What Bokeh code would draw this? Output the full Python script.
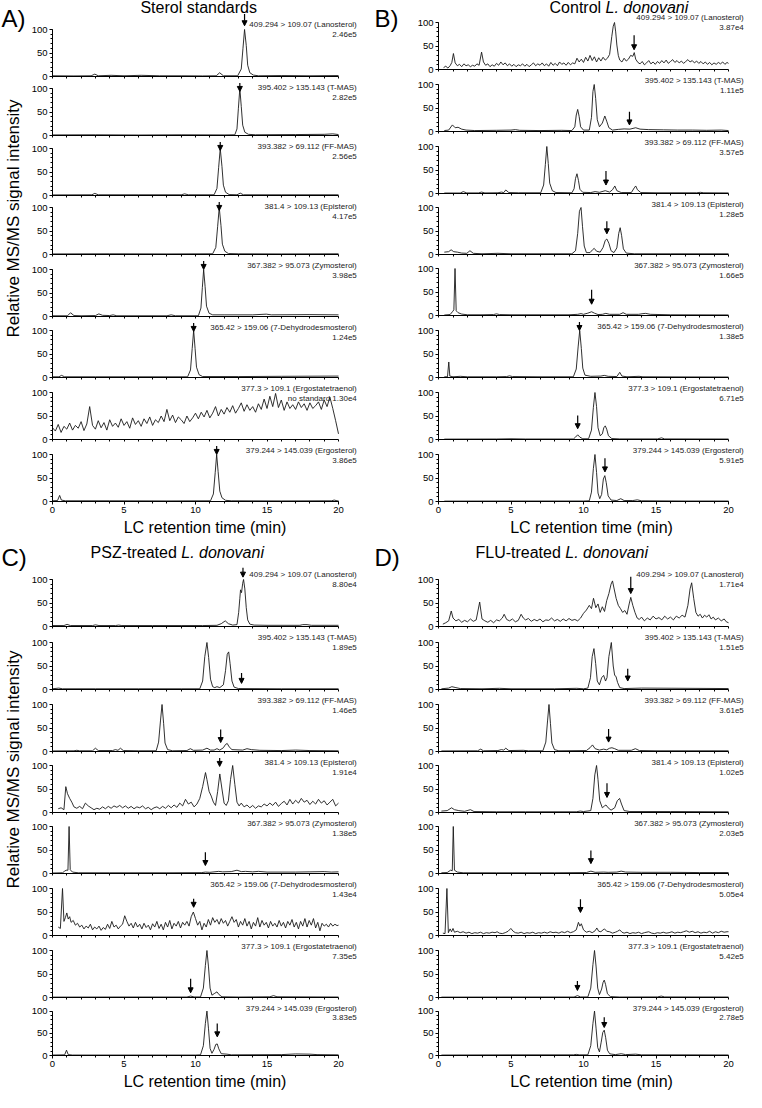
import math
from bokeh.plotting import figure
from bokeh.models import Range1d, FixedTicker, Label, Arrow, NormalHead
from bokeh.layouts import row, column
from bokeh.embed import file_html
from bokeh.resources import INLINE

FONT = "Liberation Sans"

# ---------------- data ----------------
transitions = ["409.294 > 109.07 (Lanosterol)", "395.402 > 135.143 (T-MAS)",
               "393.382 > 69.112 (FF-MAS)", "381.4 > 109.13 (Episterol)",
               "367.382 > 95.073 (Zymosterol)", "365.42 > 159.06 (7-Dehydrodesmosterol)",
               "377.3 > 109.1 (Ergostatetraenol)", "379.244 > 145.039 (Ergosterol)"]
x_ticks = [0, 5, 10, 15, 20]
x_minor = list(range(0, 21))
y_ticks = [0, 50, 100]
y_minor = [0, 10, 20, 30, 40, 50, 60, 70, 80, 90, 100]

scales_A = ["2.46e5", "2.82e5", "2.56e5", "4.17e5", "3.98e5", "1.24e5", "no standard 1.30e4", "3.86e5"]
scales_B = ["3.87e4", "1.11e5", "3.57e5", "1.28e5", "1.66e5", "1.38e5", "6.71e5", "5.91e5"]
scales_C = ["8.80e4", "1.89e5", "1.46e5", "1.91e4", "1.38e5", "1.43e4", "7.35e5", "3.83e5"]
scales_D = ["1.71e4", "1.51e5", "3.61e5", "1.02e5", "2.03e5", "5.05e4", "5.42e5", "2.78e5"]

# arrows: retention time, tip level, tail level (None = no arrow)
arrow_x_A = [13.43, 13.1, 11.73, 11.66, 10.57, 9.87, None, 11.48]
arrow_tip_A = [108, 102, 102, 101, 103, 105, None, 102]
arrow_tail_A = [133, 126, 122, 125, 125, 122, None, 123]
arrow_x_B = [13.49, 13.17, 11.55, 11.61, 10.56, 9.72, 9.6, 11.48]
arrow_tip_B = [42, 14, 18, 44, 24, 100, 23, 63]
arrow_tail_B = [73, 42, 48, 71, 55, 122, 51, 92]
arrow_x_C = [13.32, 13.22, 11.76, 11.69, 10.69, 9.87, 9.66, 11.52]
arrow_tip_C = [105, 13, 19, 104, 17, 60, 10, 42]
arrow_tail_C = [125, 35, 47, 123, 45, 78, 40, 72]
arrow_x_D = [13.26, 13.05, 11.73, 11.62, 10.51, 9.79, 9.58, 11.43]
arrow_tip_D = [70, 18, 20, 32, 21, 49, 15, 63]
arrow_tail_D = [106, 44, 48, 62, 49, 77, 35, 86]

# ---- Panel A: sterol standards ----
A_lanosterol = [(0.0,1.5),(1.5,1.2),(2.7,1.5),(2.96,5),(3.2,1.5),(4.1,2.5),(5.0,1.5),(6.2,2.5),(7.5,1.5),(9.0,1.5),
                (10.5,1.2),(11.45,1.5),(11.69,8),(11.95,1.5),(12.95,1.5),(13.2,16),(13.32,60),(13.43,100),(13.55,66),
                (13.65,24),(13.8,8),(14.05,3),(14.4,1.5),(16,2),(18,1.5),(20,2)]
A_tmas = [(0.0,1.2),(3,1.5),(6,1),(9,1.5),(12,1.2),(12.75,1.5),(12.9,14),(13.0,58),(13.1,100),(13.2,62),(13.3,22),
          (13.45,7),(13.7,2.5),(14.2,1.5),(17,2),(19,2.5),(19.6,3.5),(20,2)]
A_ffmas = [(0.0,1.2),(2.75,1.5),(2.96,4.5),(3.2,1.5),(6,1.5),(9.0,1.5),(9.24,3.5),(9.5,1.5),(11.3,1.5),(11.5,15),
           (11.62,60),(11.73,100),(11.85,62),(11.95,22),(12.1,7),(12.35,2),(12.9,1.5),(13.13,5),(13.35,1.5),(16,1.5),(20,1.5)]
A_episterol = [(0.0,1.2),(4,1.5),(8,1.2),(11.2,1.5),(11.42,15),(11.55,60),(11.66,100),(11.78,62),(11.88,22),(12.05,7),
               (12.3,2),(13,1.5),(16,1.2),(20,1.5)]
A_zymosterol = [(0.0,1.5),(1.05,1.5),(1.26,8),(1.5,2),(2.0,1.5),(3.0,2),(3.24,5.5),(3.5,2.5),(4.0,2),(4.24,3.5),(4.5,1.5),
                (8.0,1.5),(8.3,3.5),(8.6,1.5),(10.2,1.5),(10.38,18),(10.48,62),(10.57,100),(10.67,64),(10.77,22),
                (10.95,7),(11.2,3.5),(12,3.5),(14,3.5),(14.95,5),(15.3,3.5),(18,4),(20,3.5)]
A_dhd = [(0.0,1.5),(0.45,1.5),(0.63,4.5),(0.85,1.5),(3,1.5),(6,1.5),(9.45,1.5),(9.65,16),(9.77,62),(9.87,100),(9.97,62),
         (10.07,22),(10.25,6),(10.5,2),(13,2),(16,2.5),(20,3)]
A_ergostatetraenol = [(0.0,25),(0.2,18),(0.4,32),(0.6,15),(0.8,28),(1.0,22),(1.2,35),(1.4,20),(1.6,30),(1.8,24),
    (2.0,38),(2.2,19),(2.4,33),(2.6,70),(2.8,30),(3.0,22),(3.2,40),(3.4,25),(3.6,36),(3.8,20),
    (4.0,42),(4.2,28),(4.4,35),(4.6,26),(4.8,44),(5.0,30),(5.2,38),(5.4,24),(5.6,46),(5.8,32),
    (6.0,40),(6.2,28),(6.4,44),(6.6,34),(6.8,48),(7.0,30),(7.2,42),(7.4,36),(7.6,50),(7.8,38),
    (8.0,64),(8.2,40),(8.4,52),(8.6,36),(8.8,48),(9.0,42),(9.2,34),(9.4,50),(9.6,38),(9.8,46),
    (10.0,56),(10.2,44),(10.4,58),(10.6,48),(10.8,62),(11.0,46),(11.2,56),(11.4,70),(11.6,50),(11.8,64),
    (12.0,54),(12.2,68),(12.4,58),(12.6,72),(12.8,56),(13.0,66),(13.2,78),(13.4,60),(13.6,74),(13.8,62),
    (14.0,70),(14.2,58),(14.4,76),(14.6,64),(14.8,86),(15.0,66),(15.2,92),(15.4,70),(15.6,98),(15.8,68),
    (16.0,84),(16.2,62),(16.4,80),(16.6,66),(16.8,74),(17.0,64),(17.2,80),(17.4,68),(17.6,76),(17.8,62),
    (18.0,78),(18.2,66),(18.4,72),(18.6,80),(18.8,64),(19.0,84),(19.2,70),(19.4,90),(19.6,66),(19.8,40),(20.0,12)]
A_ergosterol = [(0.0,1.5),(0.35,2),(0.5,13),(0.62,3),(0.9,1.5),(4,1.5),(8,1.2),(11.05,1.5),(11.25,16),(11.38,62),
                (11.48,100),(11.58,64),(11.7,22),(11.85,8),(12.1,2.5),(12.5,1.5),(16,1.2),(19.5,1.5),(19.7,3),(19.9,1.5),(20,1.5)]

# ---- Panel B: control ----
B_lanosterol = [(0.35,4),(0.5,7),(0.65,3),(0.8,8),(0.92,15),(1.03,34),(1.15,14),(1.3,8),(1.45,11),(1.6,6),(1.75,12),
    (1.9,8),(2.05,10),(2.2,6),(2.35,9),(2.5,7),(2.65,12),(2.8,9),(2.97,37),(3.1,16),(3.25,9),(3.4,12),(3.55,6),
    (3.7,10),(3.85,7),(4.0,13),(4.15,9),(4.3,16),(4.45,10),(4.6,14),(4.75,8),(4.9,12),(5.05,7),(5.2,11),(5.35,6),
    (5.5,10),(5.65,8),(5.8,12),(5.95,7),(6.1,11),(6.25,6),(6.4,10),(6.55,14),(6.7,8),(6.85,12),(7.0,9),(7.15,14),
    (7.3,8),(7.45,12),(7.6,7),(7.75,15),(7.9,9),(8.05,13),(8.2,8),(8.35,16),(8.5,11),(8.65,14),(8.8,9),(8.95,15),
    (9.1,10),(9.25,14),(9.4,12),(9.55,24),(9.7,16),(9.85,22),(10.0,15),(10.15,26),(10.3,18),(10.45,30),(10.6,19),
    (10.75,27),(10.9,16),(11.05,25),(11.2,18),(11.35,26),(11.5,20),(11.65,24),(11.8,32),(11.95,70),(12.05,92),
    (12.14,100),(12.22,80),(12.3,52),(12.4,30),(12.5,20),(12.65,16),(12.8,24),(12.95,18),(13.1,22),(13.25,30),
    (13.4,28),(13.5,36),(13.6,22),(13.75,15),(13.9,12),(14.05,17),(14.2,10),(14.35,14),(14.5,19),(14.65,12),
    (14.8,16),(14.95,11),(15.1,17),(15.25,13),(15.4,19),(15.55,14),(15.7,20),(15.85,13),(16.0,17),(16.15,21),
    (16.3,15),(16.45,19),(16.6,14),(16.75,18),(16.9,13),(17.05,17),(17.2,21),(17.35,16),(17.5,19),(17.65,14),
    (17.8,18),(17.95,13),(18.1,17),(18.25,12),(18.4,16),(18.55,11),(18.7,15),(18.85,10),(19.0,14),(19.15,11),
    (19.3,15),(19.45,12),(19.6,16),(19.75,11),(19.9,15),(20.0,13)]
B_tmas = [(0.4,2),(0.7,3),(0.96,14),(1.15,8),(1.35,9),(1.6,5),(1.9,3),(2.5,2),(4,2.5),(5.0,3),(5.3,4),(5.6,2.5),(7,2),
          (8.5,2.5),(9.2,2),(9.4,10),(9.5,35),(9.6,47),(9.7,32),(9.8,10),(10.0,3),(10.4,3),(10.55,30),(10.65,85),
          (10.74,100),(10.84,70),(10.95,25),(11.1,10),(11.3,18),(11.47,33),(11.6,22),(11.75,8),(12.0,3),(12.4,4.5),
          (12.8,5.5),(13.2,5),(13.6,8),(13.9,5),(14.5,4),(15.5,3.5),(16.5,3),(17.5,3),(18.5,2.5),(19.5,3),(20,2)]
B_ffmas = [(0.4,1),(1.5,1),(1.71,4),(1.95,1.2),(2.75,1.2),(2.97,3),(3.2,1.2),(4.1,1.5),(4.34,3),(4.5,2),(4.64,7.5),
           (4.85,2),(5.5,1.5),(7.05,1.5),(7.25,18),(7.37,62),(7.47,100),(7.57,64),(7.67,22),(7.85,6),(8.1,2),(9.2,1.5),
           (9.35,10),(9.45,32),(9.55,42),(9.65,28),(9.75,9),(9.95,2.5),(10.5,2),(10.8,4),(11.1,2.5),(11.5,6),(11.8,3),
           (12.0,8),(12.16,16),(12.3,6),(12.6,2),(13.3,2),(13.5,12),(13.6,16),(13.72,8),(13.95,2),(15,1.5),(17.8,1.5),
           (18.06,2.5),(18.3,1.5),(20,1.2)]
B_episterol = [(0.4,5),(0.7,6),(0.87,10),(1.05,6),(1.3,5),(1.6,3),(1.95,2.5),(2.17,8),(2.4,2.5),(3.0,1.5),(4.1,2.5),
               (5,1.5),(7,1.5),(9.2,1.5),(9.45,8),(9.6,45),(9.72,92),(9.83,100),(9.93,60),(10.05,18),(10.2,4),(10.45,4),
               (10.62,10),(10.74,13),(10.9,7),(11.15,5),(11.35,15),(11.5,30),(11.61,33),(11.75,24),(11.9,8),(12.1,4),
               (12.3,14),(12.43,45),(12.53,57),(12.63,40),(12.75,12),(12.95,3),(13.5,1.5),(16,1.5),(20,1.5)]
B_zymosterol = [(0.4,1),(0.8,2),(0.96,8),(1.06,12),(1.14,100),(1.22,10),(1.35,6),(1.6,3),(2.0,1.5),(3.0,1.5),(3.8,2),
                (4.0,3.5),(4.2,2),(5,1.5),(7,1.5),(9.0,1.5),(9.6,2.5),(9.83,4),(10.0,2.5),(10.3,5),(10.56,8),(10.75,5),
                (11.0,2),(11.3,2.5),(11.54,4.5),(11.8,2.5),(12.5,2.5),(12.73,6),(12.95,2.5),(13.8,2.5),(14.1,4),
                (14.29,4.5),(14.6,2.5),(16,1.5),(20,1.2)]
B_dhd = [(0.4,1.5),(0.62,1.5),(0.71,33),(0.78,3),(1.0,1.5),(1.5,2.5),(2,1.5),(4.0,1.5),(4.7,2),(4.9,3.5),(5.1,2),(7,1.5),
         (9.3,1.5),(9.5,18),(9.63,65),(9.74,100),(9.85,62),(9.95,20),(10.1,5),(10.5,2.5),(11.2,3),(11.43,4.5),(11.7,2.5),
         (12.3,2),(12.5,11),(12.65,3),(13.0,1.5),(13.83,2.5),(14.1,1.5),(17,1.2),(20,1)]
B_ergostatetraenol = [(0.4,0.8),(4,1),(5,1.5),(6,1),(9.3,1),(9.45,5),(9.6,10),(9.75,5),(9.95,1.5),(10.35,1.5),(10.55,20),
                      (10.68,68),(10.79,100),(10.9,70),(11.0,25),(11.15,8),(11.3,12),(11.4,25),(11.5,29),(11.6,22),
                      (11.72,8),(11.95,2),(12.5,1.2),(15.1,1.2),(15.38,3.5),(15.6,1.2),(20,1)]
B_ergosterol = [(0.4,0.8),(5,1),(10,1),(10.4,1.5),(10.55,20),(10.68,70),(10.79,100),(10.9,62),(11.0,18),(11.12,6),
                (11.25,15),(11.37,48),(11.47,55),(11.57,40),(11.7,12),(11.9,3),(12.3,2),(12.57,6),(12.8,2),(13.4,2),
                (13.71,3.5),(14,1.5),(17,1),(20,1)]

# ---- Panel C: PSZ-treated ----
C_lanosterol = [(0.0,2),(0.8,2),(1.02,4.5),(1.25,2),(2.8,2),(3.0,3.5),(3.25,2),(4.4,2),(4.63,3),(4.85,2),(7,2),(9,2),
                (10.5,2),(11.5,2.5),(11.8,6),(12.08,12),(12.3,6),(12.6,3),(12.9,4),(13.02,30),(13.1,60),(13.15,78),
                (13.22,72),(13.3,92),(13.36,100),(13.45,80),(13.55,40),(13.65,14),(13.8,5),(14.1,3),(15,2.5),(17.3,2.5),
                (17.5,4),(17.8,4),(18.1,2.5),(20,2.5)]
C_tmas = [(0.0,1.5),(0.44,3),(0.7,1.5),(3,1.5),(6,1.5),(9,1.5),(10.3,1.5),(10.5,18),(10.65,70),(10.8,100),(10.92,68),
          (11.05,22),(11.2,6),(11.35,4),(11.5,6),(11.7,4),(11.95,10),(12.1,40),(12.22,75),(12.32,80),(12.42,55),
          (12.55,18),(12.7,5),(13.0,2),(16,1.5),(20,1.5)]
C_ffmas = [(0.0,1.2),(1.5,1.5),(1.7,2.5),(1.9,1.5),(2.8,1.5),(3.0,7),(3.2,2),(4.2,2),(4.4,4),(4.58,2.5),(4.75,7),(4.95,2),
           (6,1.5),(7.25,1.5),(7.42,20),(7.55,65),(7.66,100),(7.77,60),(7.87,18),(8.05,4),(8.4,1.5),(9.4,2),(9.64,6),
           (9.85,2.5),(10.5,3),(10.8,7),(11.05,3),(11.3,3),(11.5,6),(11.7,3),(11.95,8),(12.1,15),(12.22,17),(12.35,10),
           (12.55,4),(13.3,3),(13.6,6),(13.9,4),(14.5,2.5),(16,2),(17,3),(18,2),(20,1.5)]
C_episterol = [(0.4,8),(0.6,10),(0.8,6),(0.93,55),(1.05,40),(1.2,30),(1.35,22),(1.5,12),(1.7,9),(1.9,13),(2.1,8),(2.3,20),
    (2.5,14),(2.7,10),(2.9,6),(3.1,9),(3.3,7),(3.5,12),(3.7,8),(3.9,13),(4.1,9),(4.3,14),(4.5,11),(4.7,15),(4.9,10),
    (5.1,14),(5.3,9),(5.5,13),(5.7,8),(5.9,12),(6.1,10),(6.3,14),(6.5,8),(6.7,11),(6.9,6),(7.1,10),(7.3,12),(7.5,8),
    (7.7,13),(7.9,9),(8.1,15),(8.3,10),(8.5,16),(8.7,11),(8.9,20),(9.1,14),(9.3,28),(9.5,18),(9.7,22),(9.9,12),
    (10.1,18),(10.3,30),(10.5,55),(10.7,85),(10.8,70),(10.95,45),(11.1,35),(11.25,22),(11.4,15),(11.55,45),(11.7,82),
    (11.85,50),(12.0,20),(12.15,15),(12.3,25),(12.45,70),(12.6,100),(12.75,60),(12.9,22),(13.05,14),(13.2,20),
    (13.4,12),(13.6,16),(13.8,10),(14.0,15),(14.2,9),(14.4,14),(14.6,12),(14.8,18),(15.0,14),(15.2,20),(15.4,15),
    (15.6,22),(15.8,13),(16.0,19),(16.2,24),(16.4,16),(16.6,28),(16.8,18),(17.0,26),(17.2,20),(17.4,30),(17.6,22),
    (17.8,26),(18.0,17),(18.2,24),(18.4,18),(18.6,28),(18.8,20),(19.0,25),(19.2,16),(19.4,22),(19.6,28),(19.8,14),(20.0,20)]
C_zymosterol = [(0.0,1),(0.7,1.5),(0.85,5),(0.95,7),(1.08,7),(1.16,100),(1.24,8),(1.4,3),(1.8,1.5),(4,1.5),(8,1.5),
                (10.4,1.8),(10.69,3),(11.0,2.5),(11.62,4.5),(11.9,3.5),(12.5,4),(12.9,7),(13.2,4),(13.5,4.5),(14.0,3.5),
                (14.4,4.5),(15,3),(17,3),(18,3.5),(19,4),(19.5,3),(20,3.5)]
C_dhd = [(0.4,18),(0.55,15),(0.7,100),(0.8,30),(0.9,38),(1.0,48),(1.1,35),(1.2,40),(1.3,28),(1.45,32),(1.6,22),(1.75,26),
    (1.9,18),(2.05,22),(2.2,14),(2.35,20),(2.5,16),(2.65,24),(2.8,12),(2.95,18),(3.1,14),(3.25,20),(3.4,11),(3.55,17),
    (3.7,13),(3.85,24),(4.0,15),(4.15,30),(4.3,18),(4.45,22),(4.6,14),(4.75,20),(4.9,24),(5.05,42),(5.2,30),(5.35,20),
    (5.5,26),(5.65,16),(5.8,28),(5.95,18),(6.1,24),(6.25,14),(6.4,26),(6.55,17),(6.7,22),(6.85,12),(7.0,25),(7.15,18),
    (7.3,30),(7.45,15),(7.6,24),(7.75,12),(7.9,28),(8.05,18),(8.2,32),(8.35,14),(8.5,26),(8.65,20),(8.8,30),(8.95,16),
    (9.1,28),(9.25,22),(9.4,30),(9.55,20),(9.7,40),(9.85,50),(10.0,36),(10.15,22),(10.3,30),(10.45,12),(10.6,26),
    (10.75,18),(10.9,34),(11.05,22),(11.2,38),(11.35,28),(11.5,34),(11.65,24),(11.8,36),(11.95,26),(12.1,32),
    (12.25,20),(12.4,30),(12.55,40),(12.7,28),(12.85,34),(13.0,18),(13.15,30),(13.3,22),(13.45,36),(13.6,20),
    (13.75,30),(13.9,14),(14.05,28),(14.2,20),(14.35,38),(14.5,18),(14.65,32),(14.8,22),(14.95,28),(15.1,16),
    (15.25,30),(15.4,20),(15.55,26),(15.7,18),(15.85,32),(16.0,20),(16.15,28),(16.3,16),(16.45,30),(16.6,22),
    (16.75,34),(16.9,18),(17.05,28),(17.2,14),(17.35,30),(17.5,20),(17.65,36),(17.8,18),(17.95,32),(18.1,22),
    (18.25,36),(18.4,16),(18.55,28),(18.7,10),(18.85,26),(19.0,20),(19.15,24),(19.3,18),(19.45,26),(19.6,20),
    (19.75,24),(19.9,21),(20.0,22)]
C_ergostatetraenol = [(0.0,0.8),(5,1),(9.4,1),(9.66,3),(9.9,1.2),(10.35,1.2),(10.55,20),(10.69,68),(10.8,100),(10.91,65),
                      (11.02,20),(11.15,5),(11.35,9),(11.5,12),(11.65,6),(11.85,1.5),(13,1),(15.2,1.5),(15.46,4),(15.7,1.5),(20,1)]
C_ergosterol = [(0.0,1),(0.85,1.5),(0.98,12),(1.1,2),(1.4,1),(5,1),(10,1),(10.35,1.5),(10.55,22),(10.69,72),(10.8,100),
                (10.91,60),(11.02,16),(11.15,5),(11.3,14),(11.42,25),(11.52,26),(11.63,15),(11.8,4),(12.2,3),(12.5,1.5),
                (16,2),(17,3.5),(18,3),(18.5,2),(20,1.5)]

# ---- Panel D: FLU-treated ----
D_lanosterol = [(0.3,5),(0.5,8),(0.7,12),(0.88,33),(1.0,18),(1.2,12),(1.4,15),(1.6,9),(1.8,13),(2.0,10),(2.2,16),(2.4,11),
    (2.6,14),(2.84,52),(3.0,16),(3.2,12),(3.4,9),(3.6,13),(3.8,8),(4.0,14),(4.2,12),(4.4,18),(4.53,26),(4.7,15),(4.9,12),
    (5.1,16),(5.3,10),(5.5,13),(5.7,26),(5.85,18),(6.0,14),(6.2,17),(6.4,11),(6.6,15),(6.8,12),(7.0,16),(7.2,10),
    (7.4,14),(7.6,13),(7.8,18),(8.0,12),(8.2,15),(8.4,11),(8.6,16),(8.8,12),(9.0,17),(9.2,13),(9.4,15),(9.6,12),
    (9.8,18),(10.0,28),(10.2,35),(10.4,45),(10.55,38),(10.69,60),(10.85,40),(11.0,48),(11.15,30),(11.3,42),(11.45,32),
    (11.6,55),(11.75,70),(11.9,90),(12.0,97),(12.1,82),(12.25,60),(12.4,45),(12.55,38),(12.7,30),(12.85,34),(13.0,26),
    (13.15,48),(13.26,62),(13.4,45),(13.55,30),(13.7,18),(13.85,15),(14.0,20),(14.2,12),(14.4,18),(14.6,14),(14.8,22),
    (15.0,16),(15.2,19),(15.4,14),(15.6,22),(15.8,16),(16.0,20),(16.2,14),(16.4,22),(16.6,18),(16.8,24),(17.0,20),
    (17.2,45),(17.35,80),(17.46,93),(17.6,60),(17.75,30),(17.9,22),(18.05,26),(18.2,18),(18.35,24),(18.5,20),
    (18.65,25),(18.8,16),(18.95,20),(19.1,14),(19.3,18),(19.5,12),(19.7,16),(19.85,10),(20.0,8)]
D_tmas = [(0.2,1.5),(0.7,3),(0.92,6),(1.2,4),(1.5,2),(3,1.5),(4.2,2.5),(5,1.5),(8,1.5),(9.54,2.5),(10.0,1.5),(10.3,3),
          (10.48,25),(10.6,70),(10.72,87),(10.84,55),(10.95,18),(11.1,10),(11.25,25),(11.39,30),(11.52,18),(11.62,25),
          (11.75,70),(11.92,100),(12.05,50),(12.15,30),(12.24,28),(12.35,15),(12.5,4),(12.8,2),(14,3),(17,2.5),(20,2)]
D_ffmas = [(0.2,1.2),(2.7,1.5),(2.91,5),(3.1,1.5),(4.1,2),(4.34,4),(4.5,3),(4.64,7),(4.85,2),(5.84,2.5),(6.2,1.5),(7.2,1.5),
           (7.4,20),(7.52,65),(7.62,100),(7.72,60),(7.82,18),(8.0,4),(8.3,1.5),(10.2,2),(10.45,8),(10.62,14),(10.8,6),
           (11.1,3),(11.39,5),(11.6,3.5),(11.8,7),(11.96,8),(12.15,6),(12.4,2.5),(13.3,2.5),(13.58,6),(13.85,2),(15,1.5),(20,1.5)]
D_episterol = [(0.2,3),(0.6,4),(0.9,10),(1.1,6),(1.4,4),(1.8,2.5),(2.2,6),(2.45,2),(4,1.5),(6,1.5),(9.5,1.5),(9.77,3),
               (10.0,2),(10.5,4),(10.65,30),(10.78,80),(10.9,100),(11.0,70),(11.12,25),(11.3,10),(11.45,14),(11.55,16),
               (11.7,10),(11.9,5),(12.15,10),(12.33,25),(12.49,30),(12.62,18),(12.8,4),(13.2,2),(16,2),(20,1.5)]
D_zymosterol = [(0.2,1.5),(0.6,2),(0.83,7),(0.95,6),(1.02,100),(1.1,7),(1.3,3),(1.7,1.5),(4,1.5),(8,1.5),(10.2,2),
                (10.51,5),(10.8,2.5),(11.4,3),(11.7,2.5),(12.3,3),(12.6,5),(12.9,3),(14,2.5),(16,2.5),(18,2),(20,2)]
D_dhd = [(0.3,5),(0.45,4),(0.58,100),(0.68,6),(0.8,14),(0.9,8),(1.0,15),(1.1,7),(1.3,9),(1.5,6),(1.7,8),(1.9,5),(2.1,7),
    (2.3,4),(2.5,6),(2.7,5),(2.9,7),(3.1,4),(3.3,6),(3.5,5),(3.7,7),(3.9,6),(4.04,8),(4.2,5),(4.4,4),(4.6,6),(4.8,9),
    (4.99,15),(5.15,9),(5.3,6),(5.5,5),(5.7,7),(5.9,4),(6.1,6),(6.3,5),(6.5,7),(6.7,4),(6.9,6),(7.1,5),(7.3,7),(7.5,5),
    (7.7,8),(7.9,6),(8.1,7),(8.3,5),(8.5,8),(8.7,6),(8.9,9),(9.1,6),(9.3,8),(9.5,12),(9.65,28),(9.75,20),(9.85,25),
    (10.0,12),(10.2,7),(10.4,9),(10.6,6),(10.8,10),(10.92,16),(11.05,9),(11.2,8),(11.35,12),(11.45,14),(11.6,9),
    (11.8,8),(12.0,5),(12.2,7),(12.35,9),(12.5,12),(12.65,7),(12.8,5),(13.0,7),(13.2,4),(13.4,6),(13.6,5),(13.8,7),
    (14.0,4),(14.2,6),(14.5,8),(14.7,5),(14.9,4),(15.1,6),(15.3,5),(15.5,7),(15.7,5),(15.9,6),(16.1,8),(16.3,5),
    (16.5,7),(16.7,6),(16.9,8),(17.1,10),(17.3,7),(17.5,9),(17.7,6),(17.9,8),(18.1,5),(18.3,7),(18.5,6),(18.7,9),
    (18.9,5),(19.1,8),(19.3,6),(19.5,9),(19.7,7),(19.9,8),(20.0,8)]
D_ergostatetraenol = [(0.2,0.8),(5,1),(9.35,1),(9.58,4),(9.8,1.2),(10.3,1.2),(10.5,20),(10.65,70),(10.76,100),(10.87,65),
                      (10.98,20),(11.1,6),(11.25,18),(11.35,32),(11.43,37),(11.52,28),(11.65,8),(11.85,2),(12.5,1),
                      (15.1,1.2),(15.36,3),(15.6,1.2),(20,1)]
D_ergosterol = [(0.2,1),(5,1.5),(9.3,1.5),(9.5,2.5),(9.7,1.5),(10.3,1.5),(10.5,22),(10.65,72),(10.76,100),(10.87,60),
                (10.98,18),(11.1,8),(11.22,30),(11.33,52),(11.43,57),(11.53,40),(11.65,12),(11.8,4),(11.95,3),(12.2,2),
                (12.6,4),(12.9,2),(13.6,3),(14,1.5),(17,1.5),(20,1.2)]

traces_A = [A_lanosterol, A_tmas, A_ffmas, A_episterol, A_zymosterol, A_dhd, A_ergostatetraenol, A_ergosterol]
traces_B = [B_lanosterol, B_tmas, B_ffmas, B_episterol, B_zymosterol, B_dhd, B_ergostatetraenol, B_ergosterol]
traces_C = [C_lanosterol, C_tmas, C_ffmas, C_episterol, C_zymosterol, C_dhd, C_ergostatetraenol, C_ergosterol]
traces_D = [D_lanosterol, D_tmas, D_ffmas, D_episterol, D_zymosterol, D_dhd, D_ergostatetraenol, D_ergosterol]

# ---------------- layout / style ----------------
PX_PER_UNIT = 0.47   # vertical pixels per % unit
SIDE_W = 28
GAP = 6              # px below each row's x axis that belongs to that row
LINE_COLOR = "#1a1a1a"
TXT_COLOR = "#222222"
MIN_ARROW = 18       # minimal arrow length in % units


def side_fig(height, letter, ylabel=None, ylabel_from_top=None):
    p = figure(width=SIDE_W, height=height, x_range=Range1d(0, SIDE_W), y_range=Range1d(0, height),
               x_axis_location=None, y_axis_location=None, output_backend="svg", toolbar_location=None,
               min_border=0, title=None)
    p.grid.visible = False
    p.outline_line_color = None
    p.add_layout(Label(x=1, y=height - 18, text=letter, text_font=FONT, text_font_size="24px",
                       text_color="black", text_baseline="alphabetic", text_align="left"))
    if ylabel:
        p.add_layout(Label(x=13, y=height - ylabel_from_top, text=ylabel, text_font=FONT,
                           text_font_size="17px", text_color="black", angle=math.pi / 2,
                           text_align="center", text_baseline="middle"))
    return p


def panel(letter, title_parts, title_x, title_page, traces, scales, ax, atip, atail,
          axes, top, bottom, left_b, frame_w, right_b, px_per_min, ylabel_center=None):
    figs = []
    n = len(traces)
    x_end = frame_w / px_per_min
    for k in range(n):
        if k == 0:
            height = axes[0] + GAP - top
            bb = GAP
        elif k == n - 1:
            height = bottom - axes[k - 1] - GAP
            bb = bottom - axes[k]
        else:
            height = axes[k] - axes[k - 1]
            bb = GAP
        frame_px = height - bb
        ymax = frame_px / PX_PER_UNIT
        p = figure(width=left_b + frame_w + right_b, height=height, title=None,
                   x_range=Range1d(0, x_end), y_range=Range1d(0, ymax),
                   output_backend="svg", toolbar_location=None,
                   min_border_left=left_b, min_border_right=right_b,
                   min_border_top=0, min_border_bottom=bb)
        p.grid.visible = False
        p.outline_line_color = None

        xa = p.xaxis[0]
        xa.bounds = (0, 20)
        xa.major_tick_in = 0
        xa.major_tick_out = 3
        xa.minor_tick_in = 0
        xa.minor_tick_out = 2
        xa.axis_line_color = "black"
        xa.major_tick_line_color = "black"
        xa.minor_tick_line_color = "black"
        if k < n - 1:
            # unlabeled baseline: tick marks only
            xa.ticker = FixedTicker(ticks=[], minor_ticks=x_minor)
        else:
            xa.ticker = FixedTicker(ticks=x_ticks, minor_ticks=x_minor)
            xa.major_label_text_font = FONT
            xa.major_label_text_font_size = "9.5px"
            xa.major_label_text_color = "black"
            xa.major_label_standoff = 2
            xa.axis_label = "LC retention time (min)"
            xa.axis_label_text_font = FONT
            xa.axis_label_text_font_size = "16px"
            xa.axis_label_text_font_style = "normal"
            xa.axis_label_text_color = "black"
            xa.axis_label_standoff = 3

        ya = p.yaxis[0]
        ya.bounds = (0, 100)
        ya.ticker = FixedTicker(ticks=y_ticks, minor_ticks=y_minor)
        ya.major_tick_in = 0
        ya.major_tick_out = 3
        ya.minor_tick_in = 0
        ya.minor_tick_out = 2
        ya.axis_line_color = "black"
        ya.major_label_text_font = FONT
        ya.major_label_text_font_size = "9.5px"
        ya.major_label_text_color = "black"
        ya.major_label_standoff = 2

        xs = [pt[0] for pt in traces[k]]
        ys = [pt[1] for pt in traces[k]]
        p.line(xs, ys, line_color=LINE_COLOR, line_width=0.9)

        lab_y = min(110.6, ymax - 10.5)
        val_y = lab_y - 21.0
        p.add_layout(Label(x=x_end - 0.05, y=lab_y, text=transitions[k], text_font=FONT,
                           text_font_size="8px", text_color=TXT_COLOR, text_align="right",
                           text_baseline="middle"))
        p.add_layout(Label(x=x_end - 0.05, y=val_y, text=scales[k], text_font=FONT,
                           text_font_size="8px", text_color=TXT_COLOR, text_align="right",
                           text_baseline="middle"))
        if ax[k] is not None:
            tail = min(atail[k], ymax - 1)
            tip = min(atip[k], tail - MIN_ARROW)
            p.add_layout(Arrow(end=NormalHead(size=5, fill_color="black", line_color="black", line_width=1),
                               x_start=ax[k], y_start=tail, x_end=ax[k], y_end=tip,
                               line_color="black", line_width=1.2))
        if k == 0:
            ty = (axes[0] - title_page) / PX_PER_UNIT
            p.add_layout(Label(x=title_x, y=ty, text=title_parts[0], text_font=FONT,
                               text_font_size="16px", text_color="black", text_align="left",
                               text_baseline="middle"))
            if title_parts[1]:
                p.add_layout(Label(x=title_x + title_parts[2] / px_per_min, y=ty, text=title_parts[1],
                                   text_font=FONT, text_font_size="16px", text_font_style="italic",
                                   text_color="black", text_align="left", text_baseline="middle"))
        figs.append(p)
    side = side_fig(bottom - top, letter, "Relative MS/MS signal intensity" if ylabel_center else None,
                    (ylabel_center - top) if ylabel_center else None)
    return row(side, column(*figs, spacing=0), spacing=0)


A_axes = [84, 143, 203, 262, 324, 385, 447, 509]
B_axes = [77, 139, 201, 262, 323, 385, 447, 509]
CD_axes = [634, 697, 759, 820, 881, 943, 1005, 1066]

pA = panel("A)", ("Sterol standards", "", 0), 6.15, 15, traces_A, scales_A,
           arrow_x_A, arrow_tip_A, arrow_tail_A, A_axes, 8, 547, 24, 305, 16, 14.3, ylabel_center=226)
pB = panel("B)", ("Control ", "L. donovani", 56), 7.66, 15, traces_B, scales_B,
           arrow_x_B, arrow_tip_B, arrow_tail_B, B_axes, 8, 547, 37, 306, 2, 14.5)
pC = panel("C)", ("PSZ-treated ", "L. donovani", 90.7), 2.66, 560, traces_C, scales_C,
           arrow_x_C, arrow_tip_C, arrow_tail_C, CD_axes, 547, 1100, 24, 305, 16, 14.3, ylabel_center=777)
pD = panel("D)", ("FLU-treated ", "L. donovani", 89.8), 2.55, 560, traces_D, scales_D,
           arrow_x_D, arrow_tip_D, arrow_tail_D, CD_axes, 547, 1100, 37, 306, 2, 14.5)

layout = column(row(pA, pB, spacing=0), row(pC, pD, spacing=0), spacing=0)

with open("out.html", "w") as f:
    f.write(file_html(layout, INLINE))
